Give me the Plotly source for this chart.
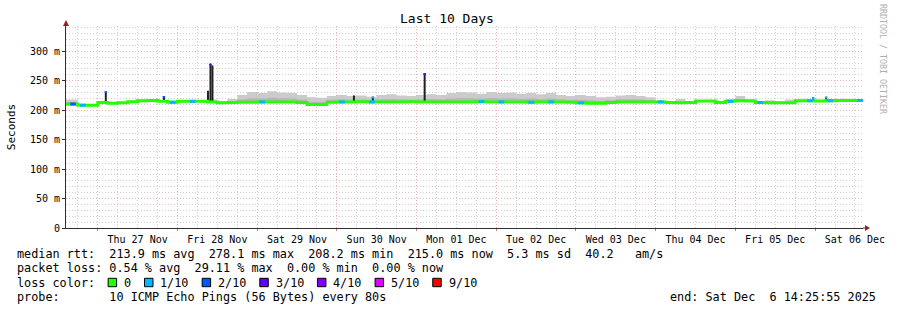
import plotly.graph_objects as go
import pandas as pd

# ---------------- data ----------------
bin_start = "2025-11-26 12:00"   # 3-hour bins
median_ms = [210, 210.5, 208.5, 208.5, 213, 212, 212.5, 214.5, 216, 216.5,
             215, 213.5, 215, 215, 215, 214, 212.5, 213, 213.5, 213.5,
             214, 214, 214, 214, 213, 209.5, 209.5, 213.5, 214, 214,
             214.5, 214, 214, 214, 214, 214.5, 214, 214, 214, 214,
             214, 214, 214.5, 214, 214, 214, 214, 213.5, 214, 214,
             214, 213.5, 212.5, 212, 212, 213, 214, 214, 214, 214,
             214, 213, 212.5, 213, 215.5, 215.5, 213, 215, 216, 215.5,
             213, 212.5, 212.5, 212.5, 216, 216, 215.5, 216, 216.5, 216.5,
             216.5, 216.5]
smoke_hi_ms = [218, 218, 210, 210, 215, 214, 214, 217, 218, 219,
               217, 215, 216, 217, 217, 218, 215, 219, 226, 231,
               229, 232, 230, 229, 226, 222, 221, 224, 226, 224,
               225, 223, 226, 227, 225, 224, 226, 227, 226, 229,
               231, 230, 228, 231, 229, 230, 228, 229, 227, 229,
               226, 224, 226, 224, 222, 223, 225, 226, 224, 222,
               217, 215, 219, 214, 217, 217, 215, 219, 224, 219,
               215, 217, 215, 218, 218, 219, 217, 219, 218, 219,
               218, 218]
loss_level = [0, 2, 1, 0, 0, 0, 0, 0, 0, 0,
              0, 1, 0, 1, 0, 0, 0, 0, 0, 0,
              1, 0, 0, 0, 0, 0, 0, 0, 1, 0,
              0, 1, 0, 0, 0, 0, 0, 0, 0, 0,
              0, 0, 1, 0, 1, 0, 0, 1, 0, 1,
              0, 0, 1, 0, 0, 0, 0, 0, 0, 0,
              1, 0, 0, 0, 0, 0, 0, 1, 0, 0,
              1, 0, 0, 0, 0, 1, 0, 1, 0, 0,
              1, 0]
spike_times = ["2025-11-27 02:25", "2025-11-27 19:55", "2025-11-28 09:11",
               "2025-11-28 09:56", "2025-11-28 10:32", "2025-11-30 05:08",
               "2025-11-30 10:50", "2025-12-01 02:26", "2025-12-05 23:26",
               "2025-12-06 03:20"]
spike_top_ms = [232, 224, 233, 279, 276, 225, 223, 263, 222, 223]
spike_loss = [2, 2, 0, 3, 0, 0, 1, 4, 1, 1]

loss_labels = ["0", "1/10", "2/10", "3/10", "4/10", "5/10", "9/10"]
loss_colors = ["#26ff00", "#00b8ff", "#0059ff", "#5e00ff", "#7e00ff", "#dd00ff", "#ff0000"]
level_colors = {0: "#26ff00", 1: "#00b8ff", 2: "#0059ff", 3: "#5e00ff",
                4: "#7e00ff", 5: "#dd00ff", 9: "#ff0000"}

y_ticks = [0, 50, 100, 150, 200, 250, 300]
y_ticktext = ["0", "50 m", "100 m", "150 m", "200 m", "250 m", "300 m"]

stats_line1 = "median rtt:  213.9 ms avg  278.1 ms max  208.2 ms min  215.0 ms now  5.3 ms sd  40.2   am/s"
stats_line2 = "packet loss: 0.54 % avg  29.11 % max  0.00 % min  0.00 % now"
probe_line = "probe:       10 ICMP Echo Pings (56 Bytes) every 80s"
end_line = "end: Sat Dec  6 14:25:55 2025"
title_text = "Last 10 Days"

t_start = pd.Timestamp("2025-11-26 14:25:55")
t_end = pd.Timestamp("2025-12-06 14:25:55")

# ---------------- figure ----------------
W, H = 897, 310
L, R, T, B = 66, 31, 26, 82
PW, PH = W - L - R, H - T - B
MONO = "DejaVu Sans Mono"

def nb(s):
    return s.replace(" ", "\u00a0")

def px(x):
    return (x - L) / PW

def py(y):
    return (H - B - y) / PH

times = pd.date_range(bin_start, periods=len(median_ms), freq="3h")
inner_ms = [m + 0.4 * (h - m) for m, h in zip(median_ms, smoke_hi_ms)]

fig = go.Figure()
# smoke (outer)
fig.add_trace(go.Scatter(x=times, y=median_ms, mode="lines", line=dict(width=0, shape="hv"),
                         hoverinfo="skip", showlegend=False))
fig.add_trace(go.Scatter(x=times, y=smoke_hi_ms, mode="lines", line=dict(width=0, shape="hv"),
                         fill="tonexty", fillcolor="#cbcbcb", hoverinfo="skip", showlegend=False))
# smoke (inner)
fig.add_trace(go.Scatter(x=times, y=median_ms, mode="lines", line=dict(width=0, shape="hv"),
                         hoverinfo="skip", showlegend=False))
fig.add_trace(go.Scatter(x=times, y=inner_ms, mode="lines", line=dict(width=0, shape="hv"),
                         fill="tonexty", fillcolor="#b6b6b6", hoverinfo="skip", showlegend=False))

# spikes
bin_idx = lambda ts: max(0, min(len(times) - 1, int((pd.Timestamp(ts) - times[0]) / pd.Timedelta("3h"))))
sx, sy = [], []
for ts, top in zip(spike_times, spike_top_ms):
    base = median_ms[bin_idx(ts)]
    sx += [pd.Timestamp(ts), pd.Timestamp(ts), None]
    sy += [base, top, None]
fig.add_trace(go.Scatter(x=sx, y=sy, mode="lines", line=dict(color="#202020", width=2),
                         hoverinfo="skip", showlegend=False))

# median line (green)
fig.add_trace(go.Scatter(x=times, y=median_ms, mode="lines",
                         line=dict(color=level_colors[0], width=3, shape="hv"),
                         hoverinfo="skip", showlegend=False))
# loss-coloured segments
seg = pd.Timedelta("105min")
for lvl in sorted(set(loss_level) | set(spike_loss)):
    if lvl == 0:
        continue
    xs, ys = [], []
    for i, lv in enumerate(loss_level):
        if lv == lvl and i + 1 < len(times):
            xs += [times[i] + pd.Timedelta("40min"), times[i] + pd.Timedelta("40min") + seg, None]
            ys += [median_ms[i], median_ms[i], None]
    if xs:
        fig.add_trace(go.Scatter(x=xs, y=ys, mode="lines",
                                 line=dict(color=level_colors[lvl], width=3),
                                 hoverinfo="skip", showlegend=False))
    tx, ty = [], []
    for ts, top, lv in zip(spike_times, spike_top_ms, spike_loss):
        if lv == lvl:
            tx += [pd.Timestamp(ts), pd.Timestamp(ts), None]
            ty += [top - 3, top, None]
    if tx:
        fig.add_trace(go.Scatter(x=tx, y=ty, mode="lines",
                                 line=dict(color=level_colors[lvl], width=2.5),
                                 hoverinfo="skip", showlegend=False))

MAJOR = "#eab4b4"
MINOR = "#d2d2d2"
fig.update_xaxes(
    type="date", range=[t_start, t_end],
    tick0="2025-11-26", dtick=86400000, tickformat="%a %d %b", ticklabelmode="period",
    showgrid=True, gridcolor=MAJOR, griddash="1px,2px", gridwidth=1,
    minor=dict(dtick=21600000, showgrid=True, gridcolor=MINOR, griddash="1px,2px", ticks=""),
    ticks="outside", ticklen=2, tickcolor="#d08080",
    showline=True, linecolor="#303030", linewidth=1,
    tickfont=dict(family=MONO, size=10, color="#000000"),
    zeroline=False, fixedrange=True,
)
fig.update_yaxes(
    range=[0, 300 * PH / 176.7],
    tickvals=y_ticks, ticktext=y_ticktext,
    showgrid=True, gridcolor=MAJOR, griddash="1px,2px", gridwidth=1,
    minor=dict(dtick=10, tick0=0, showgrid=True, gridcolor=MINOR, griddash="1px,2px"),
    ticks="outside", ticklen=3, tickcolor="#303030",
    showline=True, linecolor="#303030", linewidth=1,
    tickfont=dict(family=MONO, size=10, color="#000000"),
    zeroline=False, fixedrange=True,
)

shapes = []
# axis arrows
shapes.append(dict(type="line", xref="paper", yref="paper", x0=1, x1=px(869), y0=0, y1=0,
                   line=dict(color="#303030", width=1)))
shapes.append(dict(type="path", xref="paper", yref="paper",
                   path=f"M {px(868)} {py(225)} L {px(873)} {py(228)} L {px(868)} {py(231)} Z",
                   fillcolor="#9b2020", line=dict(width=0)))
shapes.append(dict(type="line", xref="paper", yref="paper", x0=0, x1=0, y0=1, y1=py(22),
                   line=dict(color="#303030", width=1)))
shapes.append(dict(type="path", xref="paper", yref="paper",
                   path=f"M {px(63)} {py(26)} L {px(66)} {py(20)} L {px(69)} {py(26)} Z",
                   fillcolor="#9b2020", line=dict(width=0)))

annotations = []
annotations.append(dict(text=title_text, xref="paper", yref="paper", x=px(448), y=py(19),
                        xanchor="center", yanchor="middle", showarrow=False,
                        font=dict(family=MONO, size=13, color="#000000")))
annotations.append(dict(text="Seconds", xref="paper", yref="paper", x=px(11), y=py(127),
                        xanchor="center", yanchor="middle", showarrow=False, textangle=-90,
                        font=dict(family=MONO, size=11, color="#000000")))
annotations.append(dict(text=nb("RRDTOOL / TOBI OETIKER"), xref="paper", yref="paper",
                        x=px(886), y=py(59), xanchor="center", yanchor="middle",
                        showarrow=False, textangle=90,
                        font=dict(family=MONO, size=8.3, color="#b0b0b0")))

LF = 11.8
CW = 7.115
for text, yc in [(stats_line1, 254), (stats_line2, 268), ("loss color:", 282.5), (probe_line, 296.5)]:
    annotations.append(dict(text=nb(text), xref="paper", yref="paper", x=px(15), y=py(yc),
                            xanchor="left", yanchor="middle", showarrow=False,
                            font=dict(family=MONO, size=LF, color="#000000")))
annotations.append(dict(text=nb(end_line), xref="paper", yref="paper", x=px(881), y=py(296.5),
                        xanchor="right", yanchor="middle", showarrow=False,
                        font=dict(family=MONO, size=LF, color="#000000")))

sq_x = 108.3
for lab, col in zip(loss_labels, loss_colors):
    shapes.append(dict(type="rect", xref="paper", yref="paper",
                       x0=px(sq_x), x1=px(sq_x + 8.5), y0=py(278.3), y1=py(286.7),
                       fillcolor=col, line=dict(color="#000000", width=1)))
    lx = sq_x + 14
    annotations.append(dict(text=lab, xref="paper", yref="paper", x=px(lx), y=py(282.5),
                            xanchor="left", yanchor="middle", showarrow=False,
                            font=dict(family=MONO, size=LF, color="#000000")))
    sq_x = lx + len(lab) * CW + 15.4

fig.update_layout(
    width=W, height=H, margin=dict(l=L, r=R, t=T, b=B, pad=0),
    paper_bgcolor="#ffffff", plot_bgcolor="#ffffff",
    showlegend=False, shapes=shapes, annotations=annotations,
    font=dict(family=MONO, color="#000000"),
)

fig.write_html("out.html", config={"displayModeBar": False})
